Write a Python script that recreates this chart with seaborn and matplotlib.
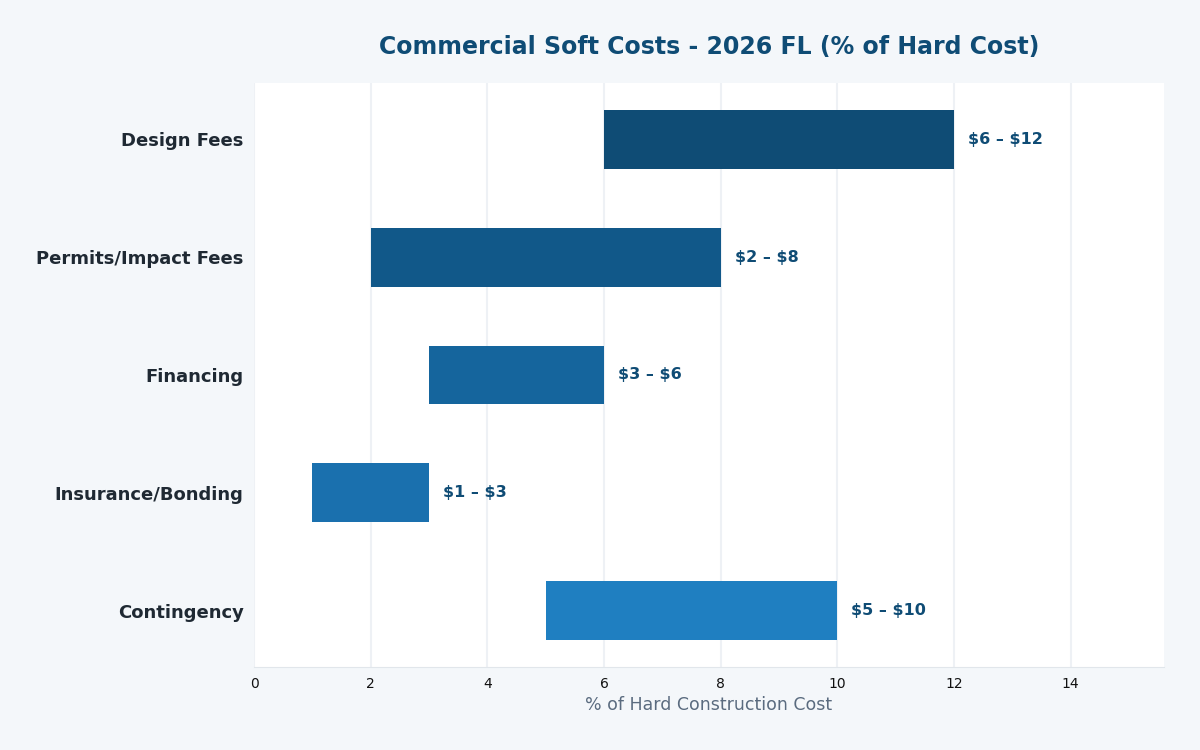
import matplotlib
matplotlib.use('Agg')
import matplotlib.pyplot as plt
import pandas as pd
import seaborn as sns

# data
categories = ['Design Fees', 'Permits/Impact Fees', 'Financing', 'Insurance/Bonding', 'Contingency']
low = [6, 2, 3, 1, 5]
high = [12, 8, 6, 3, 10]
colors = ['#0f4c75', '#115889', '#15659d', '#1a70ae', '#1f7fc1']

sns.set_style('whitegrid')
plt.rcParams['font.family'] = ['DejaVu Sans']

df = pd.DataFrame({'cat': categories, 'low': low, 'high': high})
df['span'] = df['high'] - df['low']

fig = plt.figure(figsize=(12, 7.5), dpi=100, facecolor='#f4f7fa')
ax = fig.add_axes([0.2117, 0.1107, 0.7583, 0.7786])
ax.set_facecolor('white')

sns.barplot(data=df, x='span', y='cat', hue='cat', palette=colors,
            order=categories, hue_order=categories, legend=False,
            width=0.5, orient='y', ax=ax, saturation=1)

# shift bars so they start at the low value
for p in ax.patches:
    i = int(round(p.get_y() + p.get_height() / 2))
    p.set_x(df['low'][i])
    p.set_edgecolor('none')

for i, row in df.iterrows():
    ax.text(row['high'] + 0.24, i, f"\\${row['low']} \u2013 \\${row['high']}",
            va='center', ha='left', fontsize=11.5, fontweight='bold', color='#0f4c75')

ax.set_xlim(0, 15.6)
ax.set_ylim(4.475, -0.475)
ax.set_xticks([0, 2, 4, 6, 8, 10, 12, 14])

ax.grid(axis='x', color='#eef1f5', linewidth=1.5)
ax.grid(axis='y', visible=False)
ax.set_axisbelow(True)
for s in ['top', 'right', 'left']:
    ax.spines[s].set_visible(False)
ax.spines['bottom'].set_color('#e1e6eb')

ax.tick_params(axis='both', length=4, width=1, color='#333333')
ax.tick_params(axis='x', labelsize=10, labelcolor='#111111')
ax.tick_params(axis='y', labelsize=13, labelcolor='#1f2933')
for lbl in ax.get_yticklabels():
    lbl.set_fontweight('bold')

ax.set_ylabel('')
ax.set_xlabel('% of Hard Construction Cost', fontsize=12.5, color='#5a6b7f', labelpad=3)
ax.set_title('Commercial Soft Costs - 2026 FL (% of Hard Cost)', fontsize=17,
             fontweight='bold', color='#0f4c75', pad=21)

fig.savefig('out.png', dpi=100, facecolor=fig.get_facecolor())
